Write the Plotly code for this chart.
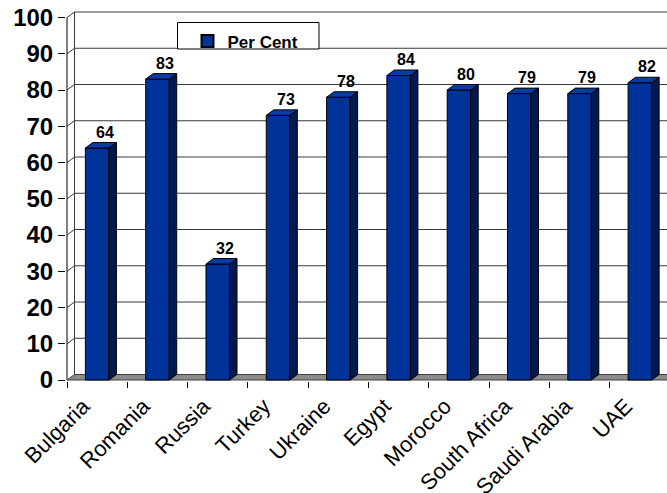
import plotly.graph_objects as go

# ---- data -------------------------------------------------------------
countries = ["Bulgaria", "Romania", "Russia", "Turkey", "Ukraine", "Egypt",
             "Morocco", "South Africa", "Saudi Arabia", "UAE"]
per_cent = [64, 83, 32, 73, 78, 84, 80, 79, 79, 82]
y_ticks = [0, 10, 20, 30, 40, 50, 60, 70, 80, 90, 100]
series_name = "Per Cent"

# ---- geometry of the pseudo-3D frame -----------------------------------
W, H = 667, 493
ML, MR, MT, MB = 66, 0, 10, 112
PW, PH = W - ML - MR, H - MT - MB

PX_PER_CAT = 60.3          # horizontal pixels per category
PX_PER_UNIT = 3.625        # vertical pixels per percentage point
DEPTH_X_PX, DEPTH_Y_PX = 7.5, 5.5

X0 = -0.5 - 1.0 / PX_PER_CAT
X1 = X0 + PW / PX_PER_CAT
Y0 = -1.0 / PX_PER_UNIT
Y1 = Y0 + PH / PX_PER_UNIT
DX = DEPTH_X_PX / PX_PER_CAT
DY = DEPTH_Y_PX / PX_PER_UNIT
BAR_W = 0.39
LEFT = -0.5

FRONT = "#003399"
SIDE = "#001a50"
TOP = "#0a3aa3"
EDGE = "#000000"
GRID = "#3a3a3a"
FONT = "Liberation Sans, Arial, sans-serif"

n = len(countries)
xs = list(range(n))

fig = go.Figure()

# front faces of the columns
fig.add_trace(go.Bar(
    x=xs, y=per_cent, width=BAR_W, name=series_name,
    marker=dict(color=FRONT, line=dict(color=EDGE, width=1)),
    showlegend=True, hoverinfo="skip",
))

# right-hand side faces
side_x, side_y = [], []
for x, v in zip(xs, per_cent):
    r = x + BAR_W / 2
    side_x += [r, r, r + DX, r + DX, r, None]
    side_y += [0, v, v + DY, DY, 0, None]
fig.add_trace(go.Scatter(
    x=side_x, y=side_y, mode="lines", fill="toself", fillcolor=SIDE,
    line=dict(color=EDGE, width=1), showlegend=False, hoverinfo="skip",
))

# top faces
top_x, top_y = [], []
for x, v in zip(xs, per_cent):
    l, r = x - BAR_W / 2, x + BAR_W / 2
    top_x += [l, r, r + DX, l + DX, l, None]
    top_y += [v, v, v + DY, v + DY, v, None]
fig.add_trace(go.Scatter(
    x=top_x, y=top_y, mode="lines", fill="toself", fillcolor=TOP,
    line=dict(color=EDGE, width=1), showlegend=False, hoverinfo="skip",
))

# category axis used only for the rotated labels
fig.add_trace(go.Scatter(x=[xs[0]], y=[0], xaxis="x2", mode="markers",
                         marker=dict(opacity=0), showlegend=False,
                         hoverinfo="skip"))

shapes = []
# floor
shapes.append(dict(
    type="path", xref="x", yref="y", layer="below",
    path=f"M{LEFT},0 L{X1 + 1},0 L{X1 + 1},{DY} L{LEFT + DX},{DY} Z",
    fillcolor="#8c8c8c", line=dict(color="#404040", width=1),
))
# gridlines on the back wall, joined to the front axis by the side wall
for v in y_ticks[1:]:
    shapes.append(dict(
        type="path", xref="x", yref="y", layer="below",
        path=f"M{LEFT},{v} L{LEFT + DX},{v + DY} L{X1 + 1},{v + DY}",
        line=dict(color=GRID, width=1),
    ))
# back wall left edge
shapes.append(dict(type="line", xref="x", yref="y", layer="below",
                   x0=LEFT + DX, x1=LEFT + DX, y0=DY, y1=y_ticks[-1] + DY,
                   line=dict(color=GRID, width=1)))
# front value axis
shapes.append(dict(type="line", xref="x", yref="y", layer="below",
                   x0=LEFT, x1=LEFT, y0=0, y1=y_ticks[-1],
                   line=dict(color="#000000", width=1)))

# legend box
lx0, lx1, ly0, ly1 = 177.5, 319, 22.5, 49
shapes.append(dict(
    type="rect", xref="paper", yref="paper", layer="above",
    x0=(lx0 - ML) / PW, x1=(lx1 - ML) / PW,
    y0=(H - MB - ly1) / PH, y1=(H - MB - ly0) / PH,
    fillcolor="white", line=dict(color="black", width=1),
))

# value labels above each column
annotations = [
    dict(x=x + DX, y=v + DY, text=str(v), showarrow=False, xref="x", yref="y",
         yanchor="bottom", xanchor="center",
         font=dict(family=FONT, size=16, color="black", weight="bold"))
    for x, v in zip(xs, per_cent)
]

fig.update_layout(
    width=W, height=H,
    margin=dict(l=ML, r=MR, t=MT, b=MB, pad=0, autoexpand=False),
    paper_bgcolor="white", plot_bgcolor="white",
    barmode="overlay",
    shapes=shapes, annotations=annotations,
    showlegend=True,
    legend=dict(
        x=(lx0 + 10 - ML) / PW, y=(H - MB - ly0 - 1) / PH,
        xanchor="left", yanchor="top",
        bgcolor="rgba(0,0,0,0)", borderwidth=0,
        font=dict(family=FONT, size=17, color="black", weight="bold"),
        itemsizing="constant",
    ),
    xaxis=dict(
        range=[X0, X1], showgrid=False, zeroline=False, showline=False,
        tickmode="array", tickvals=[i - 0.5 for i in range(n + 1)],
        ticks="outside", ticklen=6, tickcolor="#000000", tickwidth=1,
        showticklabels=False, automargin=False,
    ),
    xaxis2=dict(
        range=[X0, X1], overlaying="x", anchor="y", side="bottom",
        showgrid=False, zeroline=False, showline=False, ticks="",
        tickmode="array", tickvals=xs, ticktext=countries, tickangle=-45,
        tickfont=dict(family=FONT, size=22, color="black"),
        ticklabelshift=-14, ticklabelstandoff=7, automargin=False,
    ),
    yaxis=dict(
        range=[Y0, Y1], showgrid=False, zeroline=False, showline=False,
        tickmode="array", tickvals=y_ticks,
        ticks="outside", ticklen=7, tickcolor="#000000", tickwidth=1,
        tickfont=dict(family=FONT, size=24, color="black", weight="bold"),
        automargin=False,
    ),
)

fig.write_html("out.html")
